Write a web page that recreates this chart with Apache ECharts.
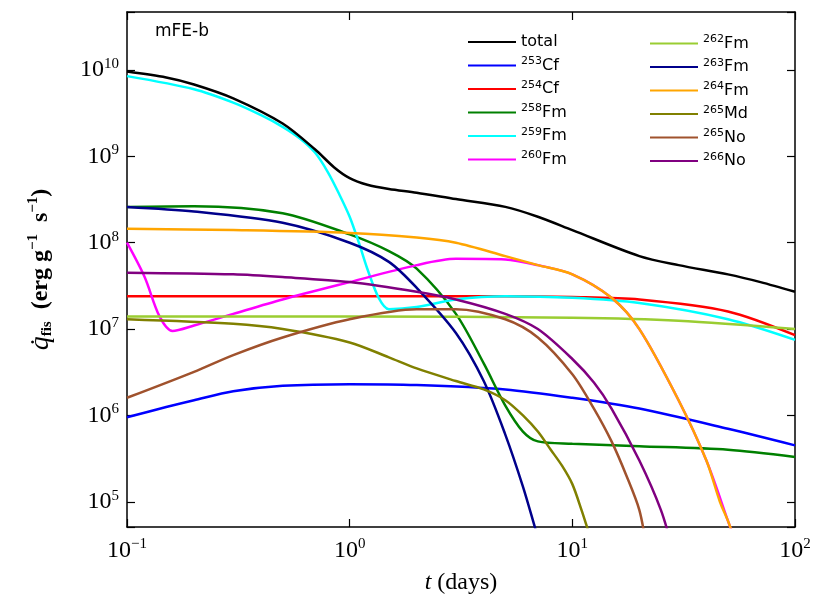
<!DOCTYPE html>
<html><head><meta charset="utf-8">
<script src="https://cdn.jsdelivr.net/npm/echarts@6/dist/echarts.min.js"></script>
<style>html,body{margin:0;background:#fff}#c{width:830px;height:615px}</style>
</head><body><div id="c"></div>
<script>
const names = ['total','253Cf','254Cf','258Fm','259Fm','260Fm','262Fm','263Fm','264Fm','265Md','265No','266No'];
const colors = ['#000000','#0000ff','#ff0000','#008000','#00ffff','#ff00ff','#9acd32','#00008b','#ffa500','#808000','#a0522d','#800080'];
const total = [[0.1,9.6e9],[0.15,8.2e9],[0.2,6.8e9],[0.3,4.7e9],[0.5,2.4e9],[0.7,1.2e9],[0.85,7.5e8],[1,5.6e8],[1.2,4.7e8],[1.5,4.2e8],[2,3.8e8],[3,3.2e8],[5,2.6e8],[7,2e8],[10,1.4e8],[20,7e7],[30,5.5e7],[50,4.3e7],[70,3.5e7],[100,2.7e7]];
const cf253 = [[0.1,9.5e5],[0.15,1.25e6],[0.2,1.5e6],[0.3,1.9e6],[0.5,2.2e6],[1,2.3e6],[2,2.25e6],[5,2e6],[10,1.6e6],[20,1.2e6],[50,7e5],[100,4.5e5]];
const cf254 = [[0.1,2.4e7],[1,2.4e7],[5,2.4e7],[10,2.35e7],[20,2.2e7],[50,1.6e7],[100,8.5e6]];
const fm258 = [[0.1,2.6e8],[0.2,2.65e8],[0.5,2.2e8],[1,1.25e8],[1.5,8e7],[2,5e7],[3,1.5e7],[4,4e6],[5,1.3e6],[6,6.5e5],[7,5e5],[10,4.7e5],[20,4.4e5],[50,4e5],[100,3.3e5]];
const fm259 = [[0.1,8.5e9],[0.2,6e9],[0.3,4.2e9],[0.4,3e9],[0.5,2.2e9],[0.6,1.6e9],[0.7,1.1e9],[0.8,6.5e8],[0.9,3.6e8],[1,2e8],[1.1,1e8],[1.2,5e7],[1.35,2.3e7],[1.5,1.7e7],[2,1.8e7],[3,2.2e7],[5,2.4e7],[10,2.3e7],[20,2e7],[50,1.3e7],[100,7.5e6]];
const fm260 = [[0.1,1e8],[0.12,4e7],[0.14,1.4e7],[0.16,9.5e6],[0.2,1.1e7],[0.3,1.5e7],[0.5,2.2e7],[1,3.5e7],[2,5.5e7],[3,6.5e7],[5,6.4e7],[7,5.5e7],[10,4.3e7],[15,2.3e7],[20,1e7],[30,1.5e6],[40,3e5],[50,6e4],[55,3e4]];
const fm262 = [[0.1,1.4e7],[1,1.4e7],[10,1.35e7],[30,1.25e7],[100,1e7]];
const fm263 = [[0.1,2.6e8],[0.2,2.3e8],[0.5,1.7e8],[1,1e8],[1.5,6e7],[2,3e7],[3,9e6],[4,2.5e6],[5,6e5],[6,1.5e5],[6.8,5e4],[7.2,3e4]];
const fm264 = [[0.1,1.45e8],[0.3,1.4e8],[1,1.3e8],[2,1.15e8],[3,1e8],[5,7e7],[7,5.5e7],[10,4.3e7],[15,2.3e7],[20,1e7],[30,1.5e6],[40,3e5],[46,1e5],[50,6e4],[55,3e4]];
const md265 = [[0.1,1.3e7],[0.3,1.15e7],[0.5,1e7],[1,7e6],[1.5,4.7e6],[2,3.5e6],[3,2.5e6],[4,2e6],[5,1.5e6],[6,1e6],[7,6.5e5],[8,4e5],[9,2.6e5],[10,1.6e5],[11,8e4],[12,4e4],[12.5,3e4]];
const no265 = [[0.1,1.6e6],[0.2,3.2e6],[0.3,5e6],[0.5,8e6],[1,1.3e7],[2,1.7e7],[3,1.7e7],[5,1.3e7],[7,8e6],[10,3e6],[12.5,1.2e6],[15,5e5],[17.5,2e5],[20,8e4],[21.5,3e4]];
const no266 = [[0.1,4.5e7],[0.3,4.3e7],[0.5,4e7],[1,3.5e7],[2,2.7e7],[3,2.2e7],[5,1.5e7],[7,1e7],[10,4.5e6],[12.5,2.4e6],[15,1.2e6],[20,3e5],[25,8e4],[28,3e4]];
const allData = [total,cf253,cf254,fm258,fm259,fm260,fm262,fm263,fm264,md265,no265,no266];

const serif = 'Liberation Serif';
function pow10(v){const e=Math.log10(v);const r=Math.round(e);if(Math.abs(e-r)>1e-6)return '';return '10{s|'+String(r).replace('-','−')+'}';}
const labRich = {s:{fontSize:15,verticalAlign:'top',padding:[0,0,12,0],fontFamily:serif}};
function legendFmt(n){if(n==='total')return n;const m=n.match(/^(\d+)(\D+)$/);return '{s|'+m[1]+'}'+m[2];}
const series = names.map((n,i)=>({name:n,type:'line',data:allData[i],showSymbol:false,smooth:0.3,clip:true,
  lineStyle:{width:2.5,color:colors[i]},itemStyle:{color:colors[i]},z:i===0?3:2}));
const legBase = {orient:'vertical',itemWidth:48,itemHeight:10,itemGap:6,icon:'path://M0,4L48,4L48,6L0,6Z',
  textStyle:{fontFamily:'DejaVu Sans',fontSize:16,color:'#000',rich:{s:{fontSize:11,verticalAlign:'top',padding:[0,0,8,0]}}},formatter:legendFmt};
const axCommon = {axisLine:{lineStyle:{color:'#000',width:1.5}},axisTick:{inside:true,length:8,lineStyle:{color:'#000',width:1.2}},splitLine:{show:false}};
const chart = echarts.init(document.getElementById('c'));
chart.setOption({
  animation:false,
  grid:{left:127,right:35,top:12,bottom:88},
  title:{text:'mFE-b',left:150,top:18,textStyle:{fontFamily:'DejaVu Sans',fontSize:17,fontWeight:'normal',color:'#000'}},
  legend:[Object.assign({},legBase,{left:463,top:29,data:names.slice(0,6)}),Object.assign({},legBase,{left:645,top:29,data:names.slice(6)})],
  xAxis:[Object.assign({type:'log',min:0.1,max:100,logBase:10,name:'{i|t} (days)',nameLocation:'middle',nameGap:44,
    nameTextStyle:{fontFamily:serif,fontSize:24,color:'#000',rich:{i:{fontStyle:'italic',fontFamily:serif,fontSize:24}}},
    axisLabel:{formatter:pow10,fontFamily:serif,fontSize:24,color:'#000',margin:10,rich:labRich}},axCommon),
    Object.assign({type:'log',min:0.1,max:100,position:'top',axisLabel:{show:false}},axCommon)],
  yAxis:[Object.assign({type:'log',min:5.1e4,max:4.7e10,logBase:10,
    name:'{i|q̇}{sub|fis}  (erg g{sp|−1}  s{sp|−1})',nameLocation:'middle',nameGap:72,
    nameTextStyle:{fontFamily:serif,fontSize:24,fontWeight:'bold',color:'#000',rich:{i:{fontStyle:'italic',fontWeight:'normal',fontFamily:serif,fontSize:28},sub:{fontSize:15,verticalAlign:'bottom',padding:[14,0,0,0],fontFamily:serif},sp:{fontSize:15,fontWeight:'bold',verticalAlign:'top',padding:[0,0,12,0],fontFamily:serif}}},
    axisLabel:{formatter:pow10,fontFamily:serif,fontSize:24,color:'#000',margin:8,rich:labRich}},axCommon),
    Object.assign({type:'log',min:5.1e4,max:4.7e10,position:'right',axisLabel:{show:false}},axCommon)],
  series:series
});
</script></body></html>
